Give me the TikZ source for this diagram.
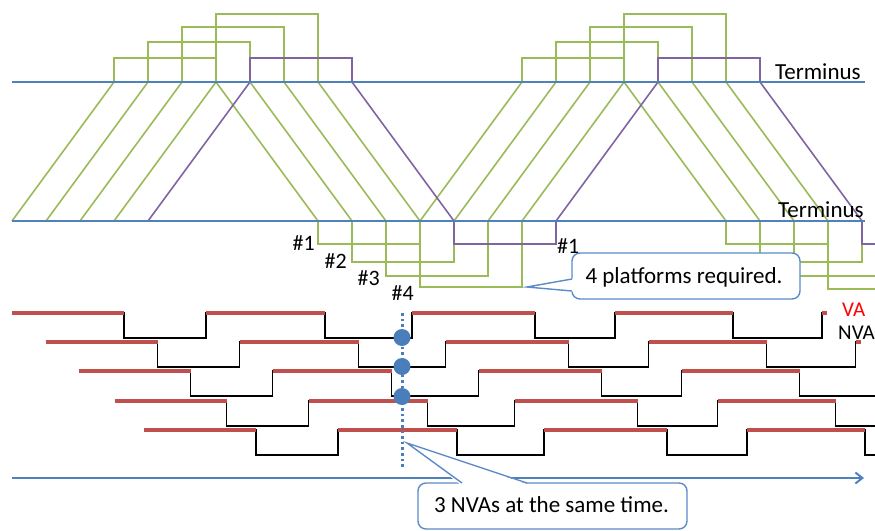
\documentclass[tikz,border=0pt]{standalone}
\usepackage{fontspec}
\setmainfont{Carlito}
\usetikzlibrary{arrows.meta}
\definecolor{railblue}{HTML}{4F81BD}
\definecolor{traingreen}{HTML}{9BBB59}
\definecolor{trainpurple}{HTML}{8064A2}
\definecolor{varred}{HTML}{C0504D}
\definecolor{calloutblue}{HTML}{5B8BC9}
\definecolor{dotblue}{HTML}{4A7EBB}
\tikzset{
  rail/.style={draw=railblue, line width=2pt},
  greentrain/.style={draw=traingreen, line width=1.6pt},
  purpletrain/.style={draw=trainpurple, line width=1.6pt},
  lowline/.style={draw=black, line width=1.9pt},
  valine/.style={draw=varred, line width=3.4pt},
  callbox/.style={draw=calloutblue, line width=1.4pt, fill=white, rounded corners=8pt, inner sep=0pt},
  callwedge/.style={draw=calloutblue, line width=1.4pt},
  bigtext/.style={inner sep=0pt, font=\fontsize{23}{27}\selectfont},
  numtext/.style={inner sep=0pt, font=\fontsize{22}{26}\selectfont},
  legtext/.style={inner sep=0pt, font=\fontsize{21}{25}\selectfont},
  marker/.style={circle, fill=dotblue, inner sep=0pt, minimum size=17pt}
}
\begin{document}
\begin{tikzpicture}[x=1pt, y=-1pt]
\useasboundingbox (0,0) rectangle (875,530);
\clip (0,0) rectangle (875,530);

% ---- train paths between the two termini (time step 34, x = 12 + 34 i)
\foreach \k/\ht/\bd/\bdd in {0/58/244/244, 1/42/262/262, 2/27/276/276, 3/14/287/289}{
  \draw[greentrain]
    ({12+34*\k},221) -- ({12+34*(\k+3)},82) -- ({12+34*(\k+3)},\ht)
    -- ({12+34*(\k+6)},\ht) -- ({12+34*(\k+6)},82) -- ({12+34*(\k+9)},221)
    -- ({12+34*(\k+9)},\bd) -- ({12+34*(\k+12)},\bd) -- ({12+34*(\k+12)},221)
    -- ({12+34*(\k+15)},82) -- ({12+34*(\k+15)},\ht) -- ({12+34*(\k+18)},\ht)
    -- ({12+34*(\k+18)},82) -- ({12+34*(\k+21)},221) -- ({12+34*(\k+21)},\bdd)
    -- ({12+34*(\k+24)},\bdd) -- ({12+34*(\k+24)},221);
}
\draw[purpletrain]
  ({12+34*4},221) -- ({12+34*7},82) -- ({12+34*7},58) -- ({12+34*10},58)
  -- ({12+34*10},82) -- ({12+34*13},221) -- ({12+34*13},244) -- ({12+34*16},244)
  -- ({12+34*16},221) -- ({12+34*19},82) -- ({12+34*19},58) -- ({12+34*22},58)
  -- ({12+34*22},82) -- ({12+34*25},221) -- ({12+34*25},244) -- ({12+34*28},244);

% ---- the two termini
\coordinate (topL) at (12,82);  \coordinate (topR) at (865,82);
\coordinate (botL) at (12,221); \coordinate (botR) at (865,221);
\draw[rail] (topL) -- (topR);
\draw[rail] (botL) -- (botR);
\node[bigtext, anchor=base west] (termtop) at (775,79) {Terminus};
\node[bigtext, anchor=base west] (termbot) at (778,217) {Terminus};

% ---- platform numbers
\node[numtext, anchor=base east] (pa) at (315,250) {\#1};
\node[numtext, anchor=base east] (pb) at (347,268) {\#2};
\node[numtext, anchor=base east] (pc) at (380,285) {\#3};
\node[numtext, anchor=base east] (pd) at (414,300) {\#4};
\node[numtext, anchor=base west] (pe) at (557,253) {\#1};

% ---- value-added / non-value-added time lines
\foreach \o/\yh in {0/313, 33.5/342, 66.5/371, 102.5/401, 132/430}{
  \draw[lowline]
    ({12+\o},\yh) -- ({124+\o},\yh) -- ({124+\o},\yh+25) -- ({206+\o},\yh+25)
    -- ({206+\o},\yh) -- ({325+\o},\yh) -- ({325+\o},\yh+25) -- ({412+\o},\yh+25)
    -- ({412+\o},\yh) -- ({535+\o},\yh) -- ({535+\o},\yh+25) -- ({615+\o},\yh+25)
    -- ({615+\o},\yh) -- ({733+\o},\yh) -- ({733+\o},\yh+25) -- ({822+\o},\yh+25)
    -- ({822+\o},\yh) -- ({827+\o},\yh);
  \foreach \a/\b in {12/124, 206/325, 412/535, 615/733, 822/827}
    \draw[valine] ({\a+\o},\yh) -- ({\b+\o},\yh);
}
\node[legtext, anchor=base west, text=red] (va) at (842,316) {VA};
\node[legtext, anchor=base west] (nva) at (838,339) {NVA};

% ---- time axis
\coordinate (axL) at (12,478);
\coordinate (axR) at (864,478);
\draw[rail, -{Straight Barb[length=7pt,width=11pt]}] (axL) -- (axR);

% ---- instant with three NVAs
\coordinate (cutT) at (402,313);
\coordinate (cutB) at (402,468);
\draw[draw=dotblue, line width=3pt, dash pattern=on 2.6pt off 3pt] (cutT) -- (cutB);
\node[marker] (m1) at (402,337.5) {};
\node[marker] (m2) at (402,366.5) {};
\node[marker] (m3) at (402,396.5) {};

% ---- callout: platforms
\node[callbox, minimum width=228pt, minimum height=46pt] (platbox) at (686,276) {};
\coordinate (plattip) at (527,287);
\fill[white] (573.6,278.4) -- (plattip) -- (573.6,291.8) -- cycle;
\draw[callwedge] (572,279) -- (plattip) -- (572,291);
\node[bigtext, anchor=base] (plattext) at (684,283) {4 platforms required.};

% ---- callout: simultaneous NVAs
\node[callbox, minimum width=269pt, minimum height=46pt] (nvabox) at (552.5,506) {};
\coordinate (nvatip) at (407,443);
\fill[white] (460.5,484.6) -- (nvatip) -- (528.6,484.6) -- cycle;
\draw[callwedge] (462,483) -- (nvatip) -- (527,483);
\node[bigtext, anchor=base] (nvatext) at (551.5,512) {3 NVAs at the same time.};
\end{tikzpicture}
\end{document}
